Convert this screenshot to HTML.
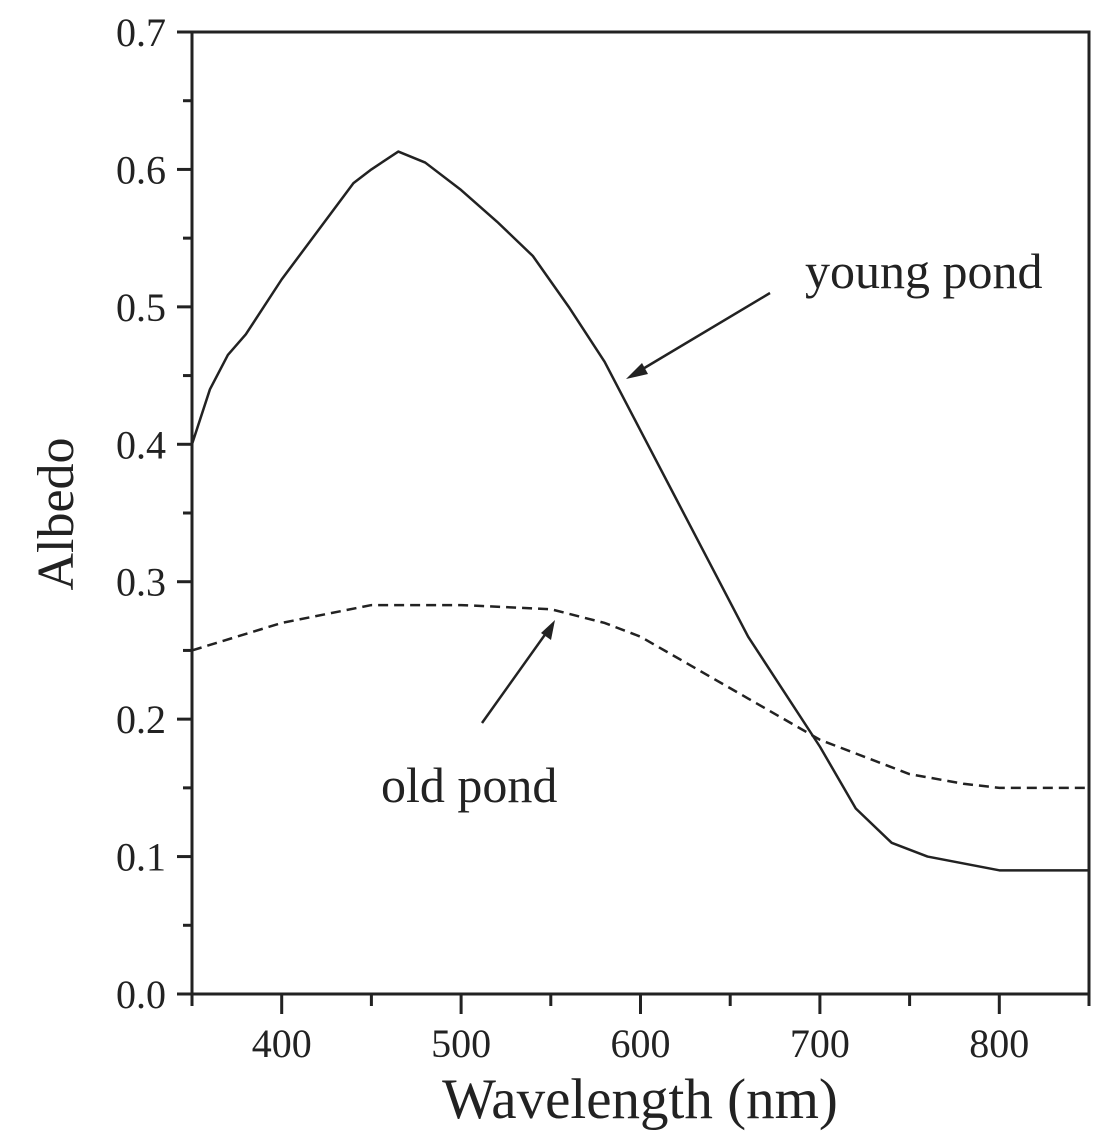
<!DOCTYPE html>
<html><head><meta charset="utf-8"><style>
html,body{margin:0;padding:0;background:#fff;}
svg{display:block;font-family:"Liberation Serif",serif;}
</style></head><body>
<svg id="chart" width="1120" height="1141" viewBox="0 0 1120 1141">
<rect x="192" y="32" width="897" height="962" fill="none" stroke="#222" stroke-width="3"/>
<g id="axes"></g>
<g id="series"></g>
<text x="640" y="1118" font-size="57" text-anchor="middle" fill="#222">Wavelength (nm)</text>
<text transform="translate(73,514) rotate(-90)" font-size="52" text-anchor="middle" fill="#222">Albedo</text>
<text x="805" y="288" font-size="50" fill="#222">young pond</text>
<text x="381" y="802" font-size="50" fill="#222">old pond</text>
<g stroke="#222" stroke-width="2.5" fill="#222">
<line x1="770" y1="293" x2="636" y2="373"/>
<polygon points="626,379 642,363 648,374" stroke="none"/>
</g>
<g stroke="#222" stroke-width="2.5" fill="#222">
<line x1="482" y1="723" x2="549" y2="629"/>
<polygon points="555,620 551,640 541,633" stroke="none"/>
</g>
</svg>
<script>
const xTicks=[400,500,600,700,800];
const yTicks=[0.0,0.1,0.2,0.3,0.4,0.5,0.6,0.7];
const youngX=[350,360,370,380,400,420,440,450,465,480,500,520,540,560,580,600,620,640,660,680,700,720,740,760,780,800,850];
const youngY=[0.40,0.44,0.465,0.48,0.52,0.555,0.59,0.60,0.613,0.605,0.585,0.562,0.537,0.50,0.46,0.41,0.36,0.31,0.26,0.22,0.18,0.135,0.11,0.10,0.095,0.09,0.09];
const oldX=[350,400,450,500,550,580,600,640,660,680,700,720,750,780,800,850];
const oldY=[0.25,0.27,0.283,0.283,0.28,0.27,0.26,0.23,0.215,0.20,0.185,0.175,0.16,0.153,0.15,0.15];
const NS='http://www.w3.org/2000/svg';
const X0=192,X1=1089,Y0=994,Y1=32;
const sx=v=>X0+(v-350)/(850-350)*(X1-X0);
const sy=v=>Y0-(v/0.7)*(Y0-Y1);
const axes=document.getElementById('axes');
function mk(tag,attrs,parent){const e=document.createElementNS(NS,tag);for(const k in attrs)e.setAttribute(k,attrs[k]);parent.appendChild(e);return e;}
for(let v=350;v<=850;v+=50){
 const major=v%100===0;
 const t=mk('line',{x1:sx(v),x2:sx(v),y1:Y0,y2:Y0+(major?20:12),stroke:'#222','stroke-width':3},axes);
 
 
}
xTicks.forEach(v=>{
 const t=mk('text',{x:sx(v),y:1057,'font-size':40,'text-anchor':'middle',fill:'#222'},axes);
 t.textContent=v;
 
 
});
for(let i=0;i<=14;i++){
 const v=i*0.05;const major=i%2===0;
 const t=mk('line',{x1:X0-(major?15:9),x2:X0,y1:sy(v),y2:sy(v),stroke:'#222','stroke-width':3},axes);
 
 
}
yTicks.forEach(v=>{
 const t=mk('text',{x:166,y:sy(v)+14,'font-size':40,'text-anchor':'end',fill:'#222'},axes);
 t.textContent=v.toFixed(1);
 
 
});
const series=document.getElementById('series');
const pts=(xs,ys)=>xs.map((x,i)=>sx(x)+','+sy(ys[i])).join(' ');
const y1=mk('polyline',{points:pts(youngX,youngY),fill:'none',stroke:'#222','stroke-width':2.5,'stroke-linejoin':'round'},series);


const o1=mk('polyline',{points:pts(oldX,oldY),fill:'none',stroke:'#222','stroke-width':2.5,'stroke-dasharray':'10,6'},series);


</script>
</body></html>
